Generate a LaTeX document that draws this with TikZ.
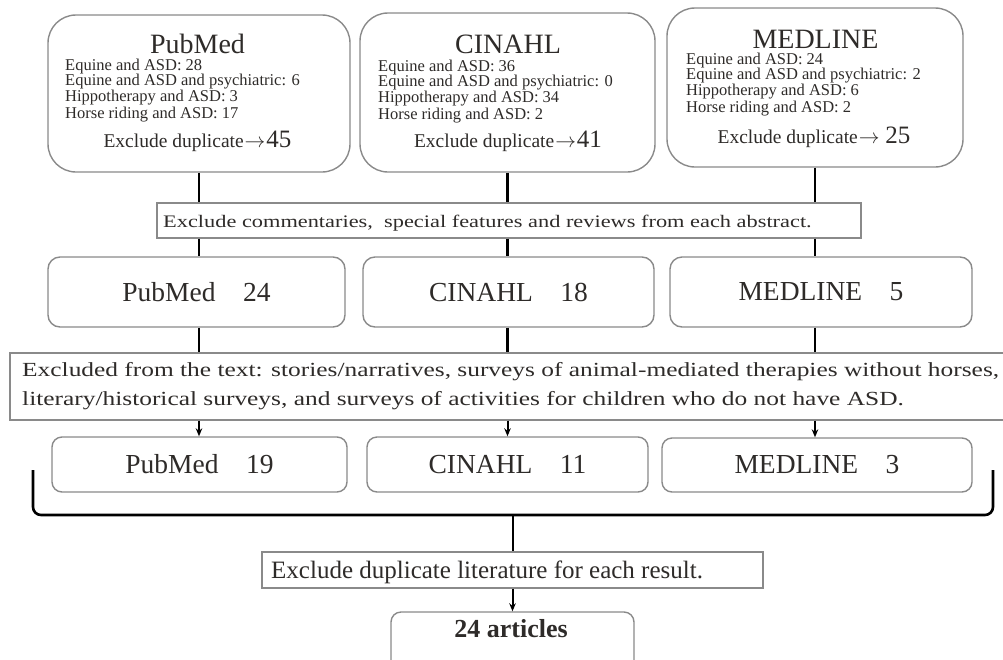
\documentclass[tikz,border=0pt]{standalone}
\usepackage{fontspec}
\setmainfont{Liberation Serif}
\newfontfamily\widefont[FakeStretch=1.27]{Liberation Serif}
\usetikzlibrary{arrows.meta}
\definecolor{txt}{HTML}{2E2B29}
\definecolor{bord}{HTML}{8A8A8A}
\newcommand{\rarr}{\kern1pt$\rightarrow$\kern1pt}
\begin{document}
\begin{tikzpicture}[x=1pt,y=-1pt,
  box/.style={draw=bord, line width=1.4pt, fill=white, inner sep=0pt},
  topbox/.style={box, rounded corners=28pt},
  midbox/.style={box, rounded corners=12pt, text=txt, font=\fontsize{27.5}{30}\selectfont},
  lowbox/.style={box, rounded corners=10pt, text=txt, font=\fontsize{27.5}{30}\selectfont},
  sqbox/.style={box},
  lbl/.style={text=txt, inner sep=0pt},
  titlelbl/.style={lbl, font=\fontsize{28}{30}\selectfont},
  smalllbl/.style={lbl, align=left, font=\fontsize{16.5}{15}\selectfont},
  excllbl/.style={lbl, font=\fontsize{19.5}{22}\selectfont},
  widelbl/.style={lbl, align=left, font=\widefont\fontsize{20}{29}\selectfont},
  conn/.style={line width=2.6pt, black},
  arr/.style={line width=2pt, black, -{Stealth[length=8pt,width=6.5pt]}},
]
\useasboundingbox (0,0) rectangle (1003,659);

% ---------- top row ----------
\node[topbox, minimum width=302pt, minimum height=157pt] (pm) at (199,93.5) {};
\node[topbox, minimum width=295pt, minimum height=159pt] (cin) at (507.5,92.5) {};
\node[topbox, minimum width=296pt, minimum height=159pt] (med) at (815,87.5) {};

\node[titlelbl, anchor=base] (pmT) at (197.5,53) {PubMed};
\node[smalllbl, anchor=base west] (pmL) at (65,118) {Equine and ASD: 28\\Equine and ASD and psychiatric: 6\\Hippotherapy and ASD: 3\\Horse riding and ASD: 17};
\node[excllbl, anchor=base] (pmE) at (197.5,147) {Exclude duplicate\rarr{\fontsize{25}{25}\selectfont 45}};

\node[titlelbl, anchor=base] (cinT) at (508,53) {CINAHL};
\node[smalllbl, anchor=base west] (cinL) at (378,119) {Equine and ASD: 36\\Equine and ASD and psychiatric: 0\\Hippotherapy and ASD: 34\\Horse riding and ASD: 2};
\node[excllbl, anchor=base] (cinE) at (508,147) {Exclude duplicate\rarr{\fontsize{25}{25}\selectfont 41}};

\node[titlelbl, anchor=base] (medT) at (815.5,48) {MEDLINE};
\node[smalllbl, anchor=base west] (medL) at (686,112) {Equine and ASD: 24\\Equine and ASD and psychiatric: 2\\Hippotherapy and ASD: 6\\Horse riding and ASD: 2};
\node[excllbl, anchor=base] (medE) at (814,143) {Exclude duplicate\rarr\ {\fontsize{25}{25}\selectfont 25}};

% ---------- commentary box ----------
\node[sqbox, minimum width=704pt, minimum height=35pt] (com) at (509,220.5) {};
\node[widelbl, anchor=base west, font=\widefont\fontsize{17.6}{20}\selectfont] (comT) at (163,227) {Exclude commentaries,\ \ special features and reviews from each abstract.};

% ---------- second row ----------
\node[midbox, minimum width=297pt, minimum height=70pt] (pm2) at (196.5,292) {PubMed\quad 24};
\node[midbox, minimum width=291pt, minimum height=70pt] (cin2) at (508.5,292) {CINAHL\quad 18};
\node[midbox, minimum width=302pt, minimum height=70pt] (med2) at (821,292) {MEDLINE\quad 5};

% ---------- wide exclusion box ----------
\node[sqbox, minimum width=1000pt, minimum height=67pt] (wide) at (510,386.5) {};
\node[widelbl, anchor=base west] (wideT) at (22,405) {Excluded from the text: stories/narratives, surveys of animal-mediated therapies without horses,\\literary/historical surveys, and surveys of activities for children who do not have ASD.};

% ---------- third row ----------
\node[lowbox, minimum width=295pt, minimum height=55pt] (pm3) at (199.5,464.5) {PubMed\quad 19};
\node[lowbox, minimum width=281pt, minimum height=55pt] (cin3) at (507.5,464.5) {CINAHL\quad 11};
\node[lowbox, minimum width=310pt, minimum height=54pt] (med3) at (817,465) {MEDLINE\quad 3};

% ---------- bracket ----------
\coordinate (bl) at (33,470);
\coordinate (brk) at (512.5,515);
\coordinate (br) at (993,470);

% ---------- bottom ----------
\node[sqbox, minimum width=501pt, minimum height=36pt] (dup) at (512.5,570) {};
\node[lbl, anchor=base west, font=\fontsize{25}{28}\selectfont] (dupT) at (271,578) {Exclude duplicate literature for each result.};
\node[box, rounded corners=10pt, minimum width=243pt, minimum height=68pt] (art) at (512.5,646) {};
\node[lbl, anchor=base, font=\bfseries\fontsize{26}{28}\selectfont] (artT) at (511,637) {24 articles};

% ---------- connectors ----------
\foreach \c/\s/\t in {pm/pm2/pm3, cin/cin2/cin3, med/med2/med3}{
  \draw[conn] (\c.south) -- (\c.south |- com.north);
  \draw[conn] (\c.south |- com.south) -- (\c.south |- \s.north);
  \draw[conn] (\c.south |- \s.south) -- (\c.south |- wide.north);
  \draw[arr] (\c.south |- wide.south) -- (\c.south |- \t.north);
}
\draw[conn, rounded corners=8pt] (bl) |- (brk) -| (br);
\draw[line width=2pt] (brk) -- (dup.north);
\draw[arr] (dup.south) -- (art.north);
\end{tikzpicture}
\end{document}
